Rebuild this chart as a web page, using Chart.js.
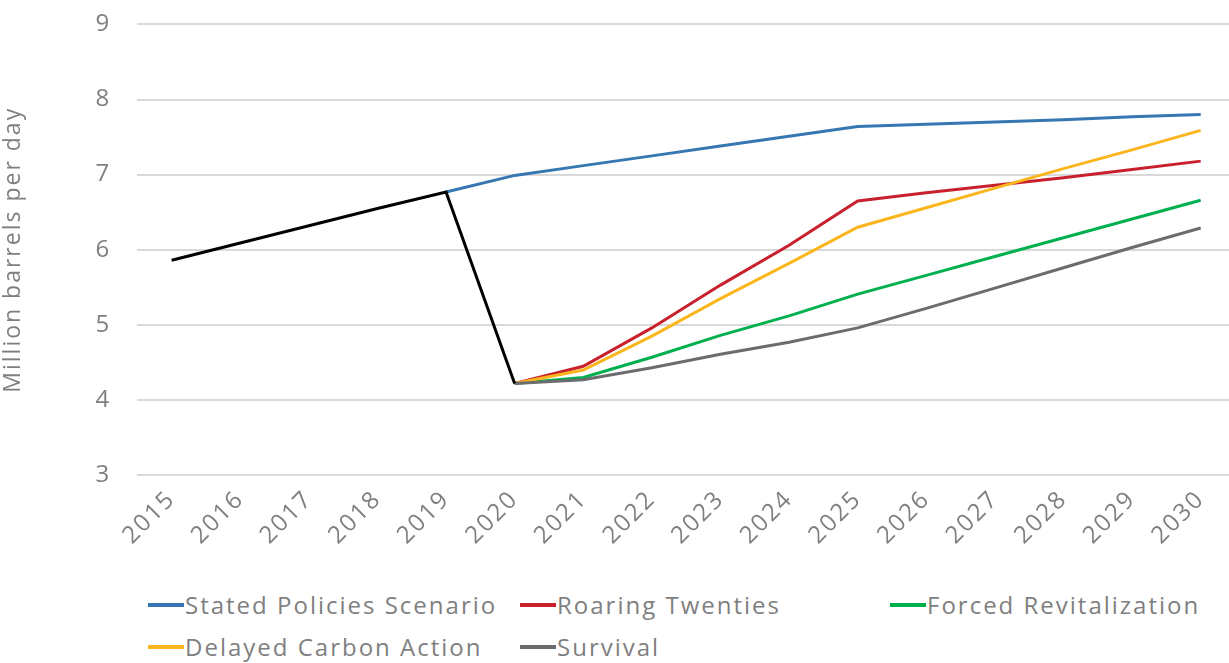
<!DOCTYPE html>
<html lang="en">
  <head>
    <meta charset="UTF-8" />
    <title>Oil demand scenarios</title>
    <script src="https://cdn.jsdelivr.net/npm/chart.js"></script>
    <style>
      body {
        margin: 0;
        background: #ffffff;
        font-family: "Open Sans", sans-serif;
      }
      .wrap {
        position: relative;
        width: 1229px;
        height: 663px;
        overflow: hidden;
      }
      .chart-box {
        position: absolute;
        left: 0;
        top: -16px;
        width: 1235px;
        height: 568px;
      }
      /* legend laid out in fixed columns like the original */
      #legend {
        position: absolute;
        left: 148px;
        top: 588px;
        width: 1080px;
        display: grid;
        grid-template-columns: 372px 370px 338px;
        row-gap: 8px;
        color: #7f7f7f;
        font-size: 24px;
        letter-spacing: 2px;
        line-height: 34px;
      }
      .item {
        display: flex;
        align-items: center;
        white-space: nowrap;
      }
      .swatch {
        width: 36px;
        height: 4px;
        margin-right: 1px;
      }
    </style>
  </head>
  <body>
    <div class="wrap">
      <div class="chart-box"><canvas id="oilChart"></canvas></div>
      <div id="legend"></div>
    </div>

    <script>
      const years = ["2015", "2016", "2017", "2018", "2019", "2020", "2021", "2022",
        "2023", "2024", "2025", "2026", "2027", "2028", "2029", "2030"];

      const historical = [5.86, 6.09, 6.32, 6.55, 6.77, 4.22, null, null, null, null, null, null, null, null, null, null];
      const statedPolicies = [null, null, null, null, 6.77, 6.99, 7.12, 7.25, 7.38, 7.51, 7.64, 7.67, 7.70, 7.73, 7.77, 7.80];
      const roaringTwenties = [null, null, null, null, null, 4.22, 4.45, 4.96, 5.53, 6.06, 6.65, 6.76, 6.86, 6.96, 7.07, 7.18];
      const forcedRevitalization = [null, null, null, null, null, 4.22, 4.30, 4.57, 4.86, 5.12, 5.41, 5.66, 5.91, 6.16, 6.41, 6.66];
      const delayedCarbon = [null, null, null, null, null, 4.22, 4.40, 4.85, 5.35, 5.82, 6.30, 6.56, 6.82, 7.08, 7.33, 7.59];
      const survival = [null, null, null, null, null, 4.22, 4.27, 4.43, 4.61, 4.77, 4.96, 5.22, 5.49, 5.76, 6.03, 6.29];

      const yTicks = [3, 4, 5, 6, 7, 8, 9];
      const axisTitle = "Million barrels per day";

      const grey = "#7f7f7f";

      function series(label, data, color, order) {
        return {
          label, data, borderColor: color, backgroundColor: color,
          borderWidth: 3, pointRadius: 0, tension: 0, fill: false, order
        };
      }

      const datasets = [
        series("Stated Policies Scenario", statedPolicies, "#3677b1", 6),
        series("Roaring Twenties", roaringTwenties, "#c9202e", 4),
        series("Forced Revitalization", forcedRevitalization, "#00b04f", 3),
        series("Delayed Carbon Action", delayedCarbon, "#fbb61d", 2),
        series("Survival", survival, "#6b6c6e", 1),
        series("History", historical, "#000000", 0)
      ];

      // the original font is a wide geometric sans, so space the letters out a bit
      const spacing = {
        id: "spacing",
        beforeLayout: (c) => { c.ctx.letterSpacing = "2px"; },
        beforeDraw: (c) => { c.ctx.letterSpacing = "2px"; }
      };

      const chart = new Chart(document.getElementById("oilChart"), {
        type: "line",
        data: { labels: years, datasets },
        plugins: [spacing],
        options: {
          responsive: true,
          maintainAspectRatio: false,
          animation: false,
          layout: { padding: { top: 10, right: 0, left: 0, bottom: 0 } },
          plugins: {
            legend: { display: false },
            tooltip: { enabled: false }
          },
          scales: {
            x: {
              offset: true,
              grid: { display: false },
              border: { display: false },
              ticks: {
                color: grey,
                font: { family: "Open Sans", size: 24 },
                minRotation: 45,
                maxRotation: 45,
                padding: 2
              }
            },
            y: {
              min: 3,
              max: 9,
              afterBuildTicks: (axis) => {
                axis.ticks = yTicks.map((v) => ({ value: v }));
              },
              grid: { color: "#d9d9d9", lineWidth: 2, drawTicks: false },
              border: { display: false },
              ticks: {
                color: grey,
                font: { family: "Open Sans", size: 24 },
                padding: 26
              },
              title: {
                display: true,
                text: axisTitle,
                color: grey,
                font: { family: "Open Sans", size: 23 },
                padding: { top: 0, bottom: 42 }
              }
            }
          }
        }
      });

      // html legend, skips the historical line
      const legend = document.getElementById("legend");
      chart.data.datasets.slice(0, 5).forEach((ds) => {
        const item = document.createElement("div");
        item.className = "item";
        item.innerHTML = '<span class="swatch" style="background:' + ds.borderColor + '"></span>' + ds.label;
        legend.appendChild(item);
      });
    </script>
  </body>
</html>
